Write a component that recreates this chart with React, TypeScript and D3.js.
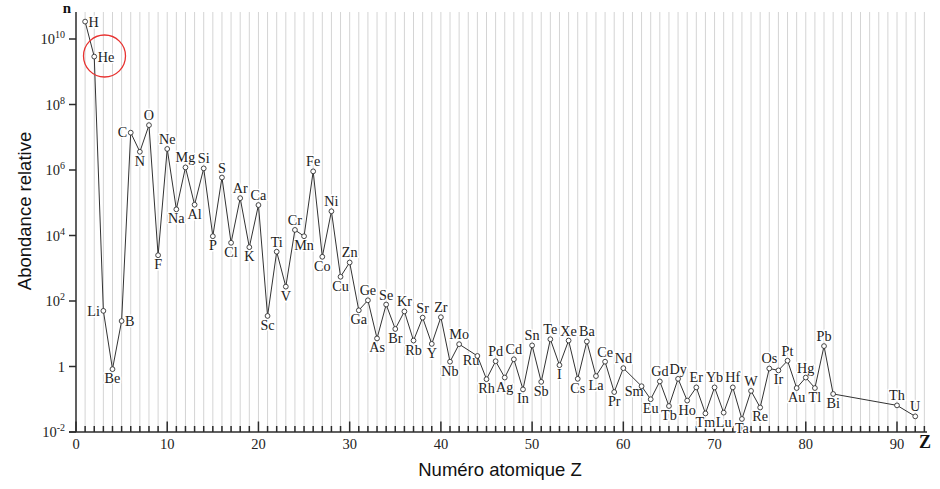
import React from "react";
import * as d3 from "d3";

const symbols = ["H","He","Li","Be","B","C","N","O","F","Ne","Na","Mg","Al","Si","P","S","Cl","Ar","K","Ca","Sc","Ti","V","Cr","Mn","Fe","Co","Ni","Cu","Zn","Ga","Ge","As","Se","Br","Kr","Rb","Sr","Y","Zr","Nb","Mo","Ru","Rh","Pd","Ag","Cd","In","Sn","Sb","Te","I","Xe","Cs","Ba","La","Ce","Pr","Nd","Sm","Eu","Gd","Tb","Dy","Ho","Er","Tm","Yb","Lu","Hf","Ta","W","Re","Os","Ir","Pt","Au","Hg","Tl","Pb","Bi","Th","U"];

const atomicNumbers = [1,2,3,4,5,6,7,8,9,10,11,12,13,14,15,16,17,18,19,20,21,22,23,24,25,26,27,28,29,30,31,32,33,34,35,36,37,38,39,40,41,42,44,45,46,47,48,49,50,51,52,53,54,55,56,57,58,59,60,62,63,64,65,66,67,68,69,70,71,72,73,74,75,76,77,78,79,80,81,82,83,90,92];

const abundances = [3.4e10,2.9e9,50,0.83,24.5,1.38e7,3.6e6,2.34e7,2500,4.4e6,6.3e4,1.2e6,8.7e4,1.12e6,9.5e3,5.9e5,6.0e3,1.38e5,4.4e3,8.5e4,35,3.2e3,275,1.48e4,9.5e3,9.1e5,2.24e3,5.5e4,550,1.5e3,52,105,7.2,78,14,48,6.2,31,4.9,32,1.4,4.8,2.1,0.41,1.45,0.46,1.66,0.2,4.4,0.34,6.8,1.1,6.2,0.42,5.8,0.51,1.4,0.166,0.89,0.25,0.1,0.35,0.062,0.42,0.091,0.23,0.037,0.23,0.039,0.23,0.025,0.18,0.056,0.87,0.76,1.5,0.22,0.46,0.22,4.2,0.145,0.065,0.03];

// label placement: t=top, b=bottom, l=left, r=right, bl=bottom-left
const labelSide = ["r","r","l","b","r","l","b","t","b","t","b","t","b","t","b","t","b","t","b","t","b","t","b","t","b","t","b","t","b","t","b","t","b","t","b","t","b","t","b","t","b","t","bl","b","t","b","t","b","t","b","t","b","t","b","t","b","t","b","t","bl","b","t","b","t","b","t","b","t","b","t","b","t","b","t","b","t","b","t","b","t","b","t","t"];

const xTickLabels = [0,10,20,30,40,50,60,70,80,90];
const yTickExponents = [-2,0,2,4,6,8,10];

const W = 940, H = 489;

export default function App() {
  const x = d3.scaleLinear().domain([0, 90]).range([76, 897]);
  const y = d3.scaleLog().domain([1e-2, 1e10]).range([432, 39]);
  const yTop = 12;
  const serif = "'Liberation Serif', 'Times New Roman', serif";
  const sans = "'Liberation Sans', Arial, sans-serif";

  const pts = atomicNumbers.map((z, i) => ({ z, v: abundances[i], s: symbols[i], side: labelSide[i] }));
  const line = d3.line<any>().x(d => x(d.z)).y(d => y(d.v));
  const gridZ = d3.range(1, 94);
  const axisColor = "#2b2b2b";

  const labelProps = (p: any) => {
    const px = x(p.z), py = y(p.v);
    switch (p.side) {
      case "t": return { x: px, y: py - 5, anchor: "middle" };
      case "b": return { x: px, y: py + 14, anchor: "middle" };
      case "l": return { x: px - 3.5, y: py + 4.8, anchor: "end" };
      case "r": return { x: px + 3.5, y: py + 5, anchor: "start" };
      case "bl": return { x: px + 2, y: py + 9.5, anchor: "end" };
      default: return { x: px, y: py, anchor: "middle" };
    }
  };

  return (
    <svg width={W} height={H} style={{ position: "absolute", left: 0, top: 0, background: "#fff" }}>
      {/* gridlines */}
      {gridZ.map(z => (
        <line key={"g" + z} x1={x(z)} x2={x(z)} y1={yTop} y2={432} stroke="#d4d4d4" strokeWidth={1} />
      ))}
      {/* y axis */}
      <line x1={76} x2={76} y1={yTop} y2={432} stroke={axisColor} strokeWidth={1.5} />
      {yTickExponents.map(e => (
        <g key={"yt" + e}>
          <line x1={69} x2={76} y1={y(Math.pow(10, e))} y2={y(Math.pow(10, e))} stroke={axisColor} strokeWidth={1.5} />
          {e === 0 ? (
            <text x={65} y={y(1) + 5.3} textAnchor="end" fontFamily={serif} fontSize={14.5} fill="#222">1</text>
          ) : (
            <text x={65} y={y(Math.pow(10, e)) + 5.3} textAnchor="end" fontFamily={serif} fontSize={14.5} fill="#222">
              10<tspan fontSize={10} dy={-6}>{String(e)}</tspan>
            </text>
          )}
        </g>
      ))}
      {/* x axis */}
      <line x1={69} x2={927} y1={432} y2={432} stroke={axisColor} strokeWidth={1.5} />
      {gridZ.map(z => (
        <line key={"xt" + z} x1={x(z)} x2={x(z)} y1={432} y2={z % 10 === 0 ? 421.5 : 426} stroke={axisColor} strokeWidth={1.5} />
      ))}
      <line x1={x(0)} x2={x(0)} y1={432} y2={421.5} stroke={axisColor} strokeWidth={1.5} />
      {xTickLabels.map(t => (
        <text key={"xl" + t} x={x(t)} y={448.5} textAnchor="middle" fontFamily={serif} fontSize={14.5} fill="#222">{t}</text>
      ))}
      {/* axis titles */}
      <text x={500} y={476} textAnchor="middle" fontFamily={sans} fontSize={18.5} fill="#111">Numéro atomique Z</text>
      <text transform="translate(31,211) rotate(-90)" textAnchor="middle" fontFamily={sans} fontSize={18.5} fill="#111">Abondance relative</text>
      <text x={67} y={13} textAnchor="middle" fontFamily={serif} fontWeight="bold" fontSize={15} fill="#111">n</text>
      <text x={925} y={448} textAnchor="middle" fontFamily={serif} fontWeight="bold" fontSize={18} fill="#111">Z</text>
      {/* labels */}
      {pts.map(p => {
        const l = labelProps(p);
        return (
          <text key={"lb" + p.s} x={l.x} y={l.y} textAnchor={l.anchor as any} fontFamily={serif} fontSize={14.2} fill="#222"
            stroke="#fff" strokeWidth={3} paintOrder="stroke" strokeLinejoin="round">{p.s}</text>
        );
      })}
      {/* data line */}
      <path d={line(pts) || ""} fill="none" stroke="#333" strokeWidth={1} />
      {pts.map(p => (
        <circle key={"c" + p.s} cx={x(p.z)} cy={y(p.v)} r={2.4} fill="#fff" stroke="#333" strokeWidth={0.9} />
      ))}
      {/* highlight circle */}
      <circle cx={104.5} cy={56} r={21} fill="none" stroke="#e8312f" strokeWidth={1.3} />
    </svg>
  );
}
